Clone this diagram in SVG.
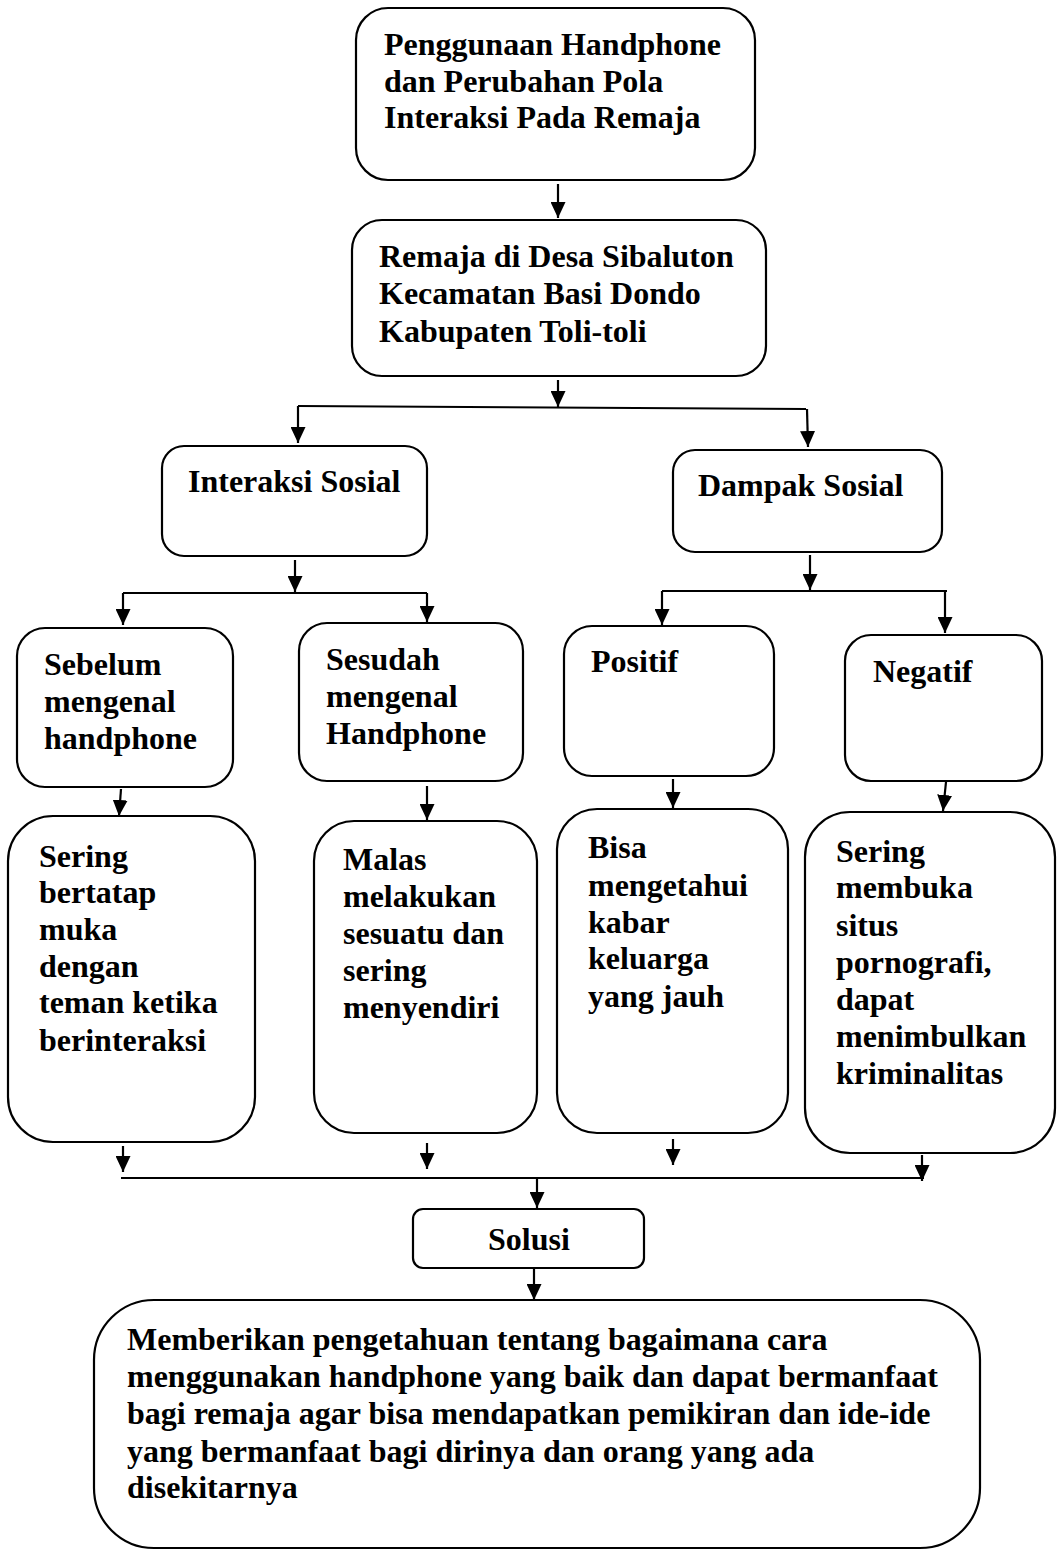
<svg xmlns="http://www.w3.org/2000/svg" width="1057" height="1551" viewBox="0 0 1057 1551">
<style>
.box{fill:#fff;stroke:#000;stroke-width:2.2}
.t{font-family:"Liberation Serif","Times New Roman",serif;font-weight:bold;font-size:32px;fill:#000}
.c{stroke:#000;stroke-width:2.2;fill:none}
</style>
<defs>
<marker id="ah" markerUnits="userSpaceOnUse" markerWidth="16" markerHeight="15" refX="16" refY="7.5" orient="auto" viewBox="0 0 16 15">
<path d="M0,0 L16,7.5 L0,15 z" fill="#000"/>
</marker>
</defs>
<rect width="1057" height="1551" fill="#fff"/>
<g id="connectors">
<line class="c" x1="558" y1="184" x2="558" y2="218" marker-end="url(#ah)"/>
<line class="c" x1="558" y1="380" x2="558" y2="407" marker-end="url(#ah)"/>
<line class="c" x1="298" y1="406" x2="806" y2="409"/>
<line class="c" x1="298" y1="406" x2="298" y2="443" marker-end="url(#ah)"/>
<line class="c" x1="807" y1="409" x2="808" y2="447" marker-end="url(#ah)"/>
<line class="c" x1="295" y1="560" x2="295" y2="592" marker-end="url(#ah)"/>
<line class="c" x1="123" y1="593" x2="427" y2="593"/>
<line class="c" x1="123" y1="593" x2="123" y2="625" marker-end="url(#ah)"/>
<line class="c" x1="427" y1="593" x2="427" y2="622" marker-end="url(#ah)"/>
<line class="c" x1="810" y1="555" x2="810" y2="590" marker-end="url(#ah)"/>
<line class="c" x1="662" y1="591" x2="947" y2="591"/>
<line class="c" x1="662" y1="591" x2="662" y2="625" marker-end="url(#ah)"/>
<line class="c" x1="945" y1="591" x2="945" y2="633" marker-end="url(#ah)"/>
<line class="c" x1="121" y1="789" x2="119" y2="816" marker-end="url(#ah)"/>
<line class="c" x1="427" y1="786" x2="427" y2="820" marker-end="url(#ah)"/>
<line class="c" x1="673" y1="779" x2="673" y2="808" marker-end="url(#ah)"/>
<line class="c" x1="946" y1="782" x2="943" y2="811" marker-end="url(#ah)"/>
<line class="c" x1="123" y1="1146" x2="123" y2="1172" marker-end="url(#ah)"/>
<line class="c" x1="427" y1="1143" x2="427" y2="1169" marker-end="url(#ah)"/>
<line class="c" x1="673" y1="1139" x2="673" y2="1165" marker-end="url(#ah)"/>
<line class="c" x1="922" y1="1155" x2="922" y2="1181" marker-end="url(#ah)"/>
<line class="c" x1="121" y1="1178" x2="924" y2="1178"/>
<line class="c" x1="537" y1="1178" x2="537" y2="1208" marker-end="url(#ah)"/>
<line class="c" x1="534" y1="1268" x2="534" y2="1300" marker-end="url(#ah)"/>
</g>
<g id="node-top">
<rect class="box" x="356" y="8" width="399" height="172" rx="32"/>
<text class="t"><tspan x="384" y="55">Penggunaan Handphone</tspan><tspan x="384" y="92">dan Perubahan Pola</tspan><tspan x="384" y="128">Interaksi Pada Remaja</tspan></text>
</g>
<g id="node-remaja">
<rect class="box" x="352" y="220" width="414" height="156" rx="30"/>
<text class="t"><tspan x="379" y="267">Remaja di Desa Sibaluton</tspan><tspan x="379" y="304">Kecamatan Basi Dondo</tspan><tspan x="379" y="342">Kabupaten Toli-toli</tspan></text>
</g>
<g id="node-interaksi">
<rect class="box" x="162" y="446" width="265" height="110" rx="22"/>
<text class="t" x="188" y="492">Interaksi Sosial</text>
</g>
<g id="node-dampak">
<rect class="box" x="673" y="450" width="269" height="102" rx="22"/>
<text class="t" x="698" y="496">Dampak Sosial</text>
</g>
<g id="node-sebelum">
<rect class="box" x="17" y="628" width="216" height="159" rx="28"/>
<text class="t"><tspan x="44" y="675">Sebelum</tspan><tspan x="44" y="712">mengenal</tspan><tspan x="44" y="749">handphone</tspan></text>
</g>
<g id="node-sesudah">
<rect class="box" x="299" y="623" width="224" height="158" rx="28"/>
<text class="t"><tspan x="326" y="670">Sesudah</tspan><tspan x="326" y="707">mengenal</tspan><tspan x="326" y="744">Handphone</tspan></text>
</g>
<g id="node-positif">
<rect class="box" x="564" y="626" width="210" height="150" rx="28"/>
<text class="t" x="591" y="672">Positif</text>
</g>
<g id="node-negatif">
<rect class="box" x="845" y="635" width="197" height="146" rx="26"/>
<text class="t" x="873" y="682">Negatif</text>
</g>
<g id="node-sering">
<rect class="box" x="8" y="816" width="247" height="326" rx="45"/>
<text class="t"><tspan x="39" y="867">Sering</tspan><tspan x="39" y="903">bertatap</tspan><tspan x="39" y="940">muka</tspan><tspan x="39" y="977">dengan</tspan><tspan x="39" y="1013">teman ketika</tspan><tspan x="39" y="1051">berinteraksi</tspan></text>
</g>
<g id="node-malas">
<rect class="box" x="314" y="821" width="223" height="312" rx="40"/>
<text class="t"><tspan x="343" y="870">Malas</tspan><tspan x="343" y="907">melakukan</tspan><tspan x="343" y="944">sesuatu dan</tspan><tspan x="343" y="981">sering</tspan><tspan x="343" y="1018">menyendiri</tspan></text>
</g>
<g id="node-bisa">
<rect class="box" x="557" y="809" width="231" height="324" rx="40"/>
<text class="t"><tspan x="588" y="858">Bisa</tspan><tspan x="588" y="896">mengetahui</tspan><tspan x="588" y="933">kabar</tspan><tspan x="588" y="969">keluarga</tspan><tspan x="588" y="1007">yang jauh</tspan></text>
</g>
<g id="node-sering2">
<rect class="box" x="805" y="812" width="250" height="341" rx="45"/>
<text class="t"><tspan x="836" y="862">Sering</tspan><tspan x="836" y="898">membuka</tspan><tspan x="836" y="936">situs</tspan><tspan x="836" y="973">pornografi,</tspan><tspan x="836" y="1010">dapat</tspan><tspan x="836" y="1047">menimbulkan</tspan><tspan x="836" y="1084">kriminalitas</tspan></text>
</g>
<g id="node-solusi">
<rect class="box" x="413" y="1209" width="231" height="59" rx="10"/>
<text class="t" x="488" y="1250">Solusi</text>
</g>
<g id="node-final">
<rect class="box" x="94" y="1300" width="886" height="248" rx="60"/>
<text class="t"><tspan x="127" y="1350">Memberikan pengetahuan tentang bagaimana cara</tspan><tspan x="127" y="1387">menggunakan handphone yang baik dan dapat bermanfaat</tspan><tspan x="127" y="1424">bagi remaja agar bisa mendapatkan pemikiran dan ide-ide</tspan><tspan x="127" y="1462">yang bermanfaat bagi dirinya dan orang yang ada</tspan><tspan x="127" y="1498">disekitarnya</tspan></text>
</g>
</svg>
